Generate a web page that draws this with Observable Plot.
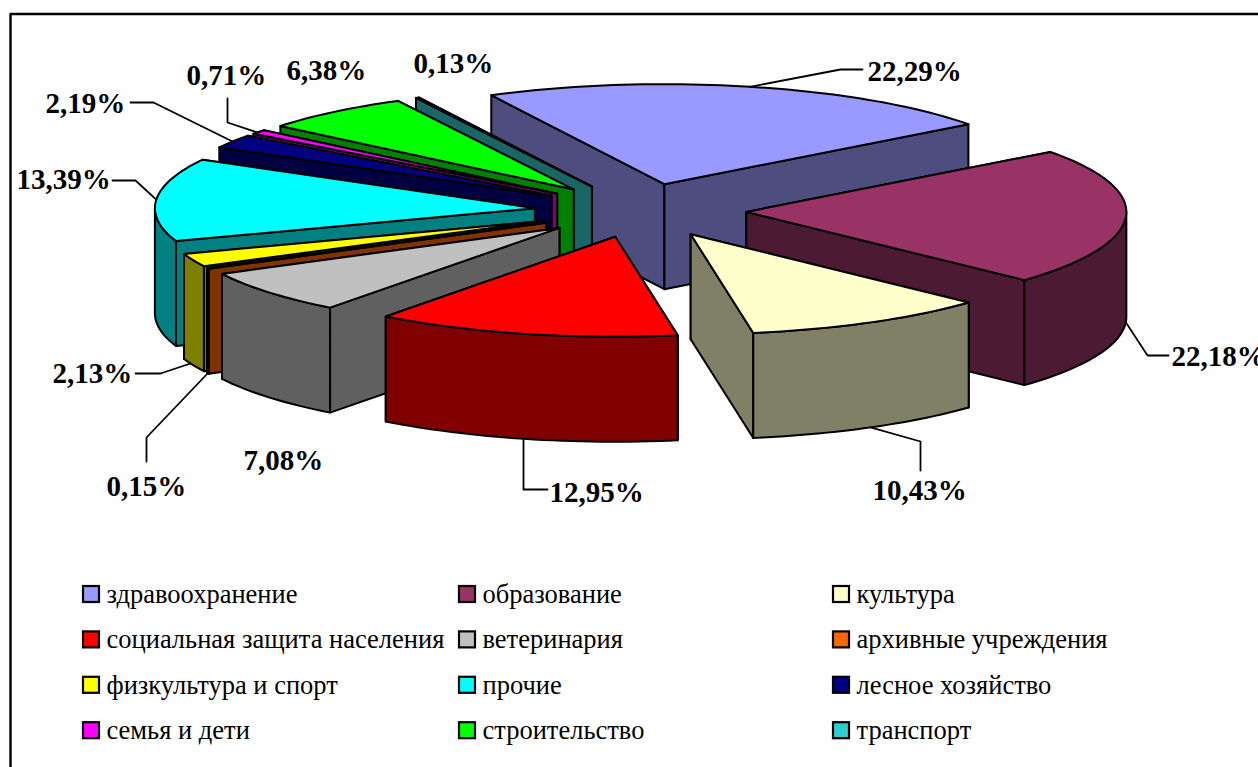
<!DOCTYPE html>
<html>
<head>
<meta charset="utf-8">
<script src="https://cdn.jsdelivr.net/npm/d3@7"></script>
<script src="https://cdn.jsdelivr.net/npm/@observablehq/plot@0.6"></script>
<style>
  html, body { margin: 0; padding: 0; background: #fff; overflow: hidden; }
  svg { display: block; }
</style>
</head>
<body>
<div id="chart"></div>
<script>
// ---- data ----
const categories = ["здравоохранение", "образование", "культура", "социальная защита населения", "ветеринария", "архивные учреждения", "физкультура и спорт", "прочие", "лесное хозяйство", "семья и дети", "строительство", "транспорт"];
const shares = [22.29, 22.18, 10.43, 12.95, 7.08, 0.15, 2.13, 13.39, 2.19, 0.71, 6.38, 0.13];
const valueLabels = ["22,29%", "22,18%", "10,43%", "12,95%", "7,08%", "0,15%", "2,13%", "13,39%", "2,19%", "0,71%", "6,38%", "0,13%"];
const topColors = ["#9999ff", "#993366", "#ffffcc", "#ff0000", "#c0c0c0", "#ff6600", "#ffff00", "#00ffff", "#000080", "#ff00ff", "#00ff00", "#33cccc"];
const wallColors = ["#4d4d80", "#4d1a33", "#808066", "#800000", "#606060", "#803300", "#808000", "#008080", "#000040", "#800080", "#008000", "#1a6666"];

// ---- layout of the pie and its annotations ----
const W = 1258, H = 767;
const cx = 640, cy = 210, rx = 380, ry = 100, depth = 105;
const ex = 106, ey = 27;          // explosion offset
const startAngle = -27.1;
const labelPos = [[867, 71], [1171, 356], [872, 490], [549, 492], [243, 460], [106, 486], [52, 373], [16, 179], [45, 103], [186, 75], [286, 70], [413, 63]];
const elbows = [
  [[840, 69], [862, 69]], [[1147, 355], [1168, 355]], [[920, 441], [920, 470]], [[523, 489], [547, 489]],
  null, [[146, 437], [146, 461]], [[160, 373], [135, 373]], [[135, 180], [112, 180]],
  [[153, 102], [130, 102]], [[227, 122], [227, 98]], null, null
];
const leaderStarts = [null, null, null, [523, 438], null, [208, 372], [190, 363], null, [232, 141], [257, 132], null, null];

// ---- geometry derived from the shares ----
const rad = (d) => d * Math.PI / 180;
const total = d3.sum(shares);
const cum = d3.cumsum(shares);
const slices = categories.map((name, i) => {
  const a0 = startAngle + (i ? cum[i - 1] : 0) / total * 360;
  const a1 = startAngle + cum[i] / total * 360;
  const mid = (a0 + a1) / 2;
  return {
    i, name, a0, a1, mid,
    ax: cx + ex * Math.sin(rad(mid)),
    ay: cy - ey * Math.cos(rad(mid)),
    top: topColors[i], wall: wallColors[i]
  };
});
const rimPt = (s, a, dz = 0) => [s.ax + rx * Math.sin(rad(a)), s.ay - ry * Math.cos(rad(a)) + dz];
const arc = (s, a0, a1, dz = 0) => {
  const n = Math.max(1, Math.ceil(Math.abs(a1 - a0) / 1.5));
  return d3.range(n + 1).map((k) => rimPt(s, a0 + (a1 - a0) * k / n, dz));
};
const poly = (pts, fill, strokeWidth = 2) => Plot.line(pts.concat([pts[0]]), {
  x: (d) => d[0], y: (d) => d[1], fill, stroke: "#000", strokeWidth
});

const pieMarks = [];
slices.slice().sort((p, q) => Math.cos(rad(q.mid)) - Math.cos(rad(p.mid))).forEach((s) => {
  const apex = [s.ax, s.ay], apexLow = [s.ax, s.ay + depth];
  // radial walls, the hidden one first
  [s.a0, s.a1].sort((a, b) => rimPt(s, a)[1] - rimPt(s, b)[1]).forEach((a) => {
    pieMarks.push(poly([apex, rimPt(s, a), rimPt(s, a, depth), apexLow], s.wall));
  });
  // outer wall, only where it faces the viewer
  const v0 = Math.max(s.a0, 90), v1 = Math.min(s.a1, 270);
  if (v1 > v0) pieMarks.push(poly([...arc(s, v0, v1), ...arc(s, v1, v0, depth)], s.wall));
  // top face
  pieMarks.push(poly([apex, ...arc(s, s.a0, s.a1)], s.top));
});

// leader lines start on the rim at each slice's mid angle
const leaderMarks = slices.flatMap((s) => {
  if (!elbows[s.i]) return [];
  const front = Math.cos(rad(s.mid)) < 0;
  const start = leaderStarts[s.i] || rimPt(s, s.mid, front ? depth : 0);
  return [Plot.line([start, ...elbows[s.i]], {x: (d) => d[0], y: (d) => d[1], stroke: "#000", strokeWidth: 1.8})];
});

// legend: three columns, filled row by row
const legendCols = [83, 459, 833], legendTop = 594, legendStep = 45.4, sw = 16;
const legend = categories.map((name, i) => ({
  name,
  color: topColors[i],
  x: legendCols[i % 3],
  y: legendTop + Math.floor(i / 3) * legendStep
}));

const chart = Plot.plot({
  width: W, height: H,
  margin: 0,
  style: {background: "#fff", overflow: "hidden"},
  x: {domain: [0, W], range: [0, W], axis: null},
  y: {domain: [0, H], range: [0, H], axis: null},
  color: {type: "identity"},
  marks: [
    Plot.line([[10, H], [10, 13.5], [W, 13.5]], {x: (d) => d[0], y: (d) => d[1], stroke: "#000", strokeWidth: 2.4}),
    ...pieMarks,
    ...leaderMarks,
    Plot.text(valueLabels.map((t, i) => ({t, x: labelPos[i][0], y: labelPos[i][1]})), {
      x: "x", y: "y", text: "t", textAnchor: "start", lineAnchor: "middle",
      fontFamily: "Liberation Serif", fontWeight: "bold", fontSize: 29, fill: "#000"
    }),
    Plot.rect(legend, {
      x1: "x", x2: (d) => d.x + sw, y1: (d) => d.y - sw / 2, y2: (d) => d.y + sw / 2,
      fill: "color", stroke: "#000", strokeWidth: 2.2
    }),
    Plot.text(legend, {
      x: (d) => d.x + 23, y: "y", text: "name", textAnchor: "start", lineAnchor: "middle",
      fontFamily: "Liberation Serif", fontSize: 26.5, fill: "#000"
    })
  ]
});
document.getElementById("chart").appendChild(chart);
</script>
</body>
</html>
